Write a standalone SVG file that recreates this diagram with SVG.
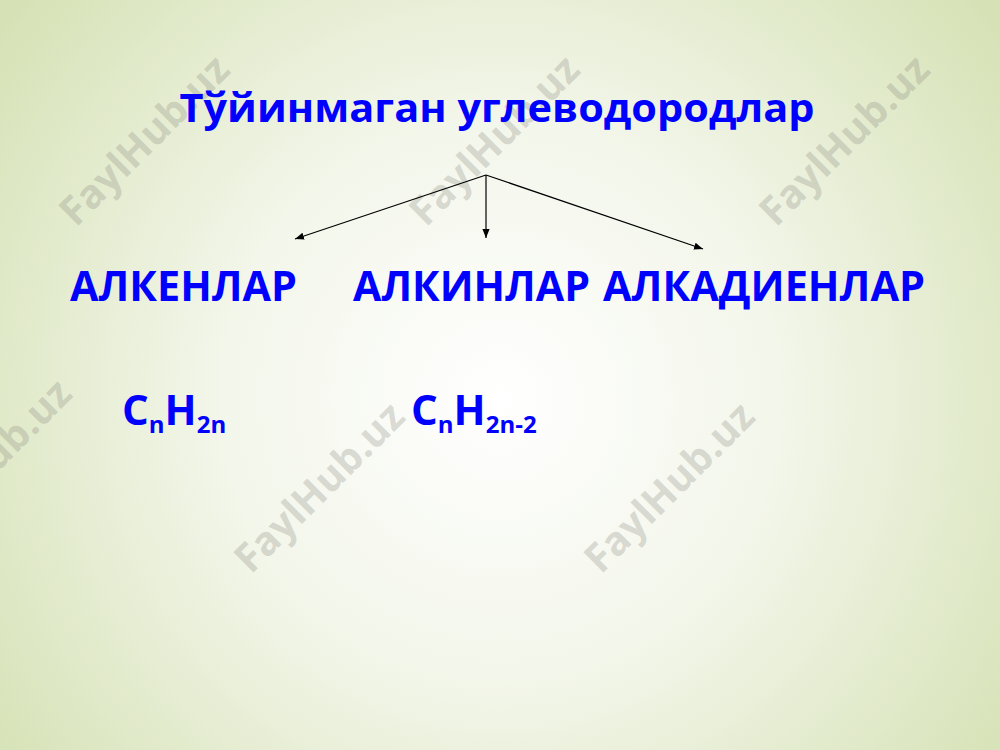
<svg xmlns="http://www.w3.org/2000/svg" width="1000" height="750" viewBox="0 0 1000 750">
<defs>
<radialGradient id="bg" cx="500" cy="400" r="620" gradientUnits="userSpaceOnUse">
<stop offset="0" stop-color="#ffffff"/>
<stop offset="0.45" stop-color="#f3f6ea"/>
<stop offset="1" stop-color="#d6e2b6"/>
</radialGradient>
<marker id="ah" viewBox="0 0 10 10" refX="10" refY="5" markerWidth="9" markerHeight="9" markerUnits="userSpaceOnUse" orient="auto">
<path d="M0,1 L10,5 L0,9 Z" fill="#000"/>
</marker>
<style>
.t{font-family:"Open Sans","Noto Sans","DejaVu Sans",sans-serif;font-weight:bold;fill:#0000ff}
.wm{font-family:"Open Sans","Noto Sans","DejaVu Sans",sans-serif;font-weight:bold;font-size:40px;fill:#8a8a80;fill-opacity:0.3;text-anchor:middle}
.c{stroke:#000;stroke-width:1.2;fill:none;marker-end:url(#ah)}
</style>
</defs>
<rect width="1000" height="750" fill="url(#bg)"/>
<g id="watermarks">
<text class="wm" transform="translate(154,150) rotate(-45)">FaylHub.uz</text>
<text class="wm" transform="translate(504,150) rotate(-45)">FaylHub.uz</text>
<text class="wm" transform="translate(854,150) rotate(-45)">FaylHub.uz</text>
<text class="wm" transform="translate(-4,474) rotate(-45)">FaylHub.uz</text>
<text class="wm" transform="translate(329,497) rotate(-45)">FaylHub.uz</text>
<text class="wm" transform="translate(679,497) rotate(-45)">FaylHub.uz</text>
</g>
<g id="title"><text class="t" x="497" y="122" font-size="40" text-anchor="middle" textLength="635" lengthAdjust="spacingAndGlyphs">Тўйинмаган углеводородлар</text></g>
<g id="alkenlar"><text class="t" x="70" y="301" font-size="41" textLength="227" lengthAdjust="spacingAndGlyphs">АЛКЕНЛАР</text></g>
<g id="alkinlar"><text class="t" x="353" y="301" font-size="41" textLength="237" lengthAdjust="spacingAndGlyphs">АЛКИНЛАР</text></g>
<g id="alkadienlar"><text class="t" x="603" y="301" font-size="41" textLength="322" lengthAdjust="spacingAndGlyphs">АЛКАДИЕНЛАР</text></g>
<g id="formula1"><text class="t" x="122" y="425" font-size="42">C<tspan font-size="24" dy="8">n</tspan><tspan dy="-8">H</tspan><tspan font-size="24" dy="8">2n</tspan></text></g>
<g id="formula2"><text class="t" x="411" y="425" font-size="42">C<tspan font-size="24" dy="8">n</tspan><tspan dy="-8">H</tspan><tspan font-size="24" dy="8">2n-2</tspan></text></g>
<g id="connectors">
<line class="c" x1="486" y1="175" x2="295" y2="239"/>
<line class="c" x1="486" y1="175" x2="486" y2="238"/>
<line class="c" x1="486" y1="175" x2="703" y2="249"/>
</g>
</svg>
